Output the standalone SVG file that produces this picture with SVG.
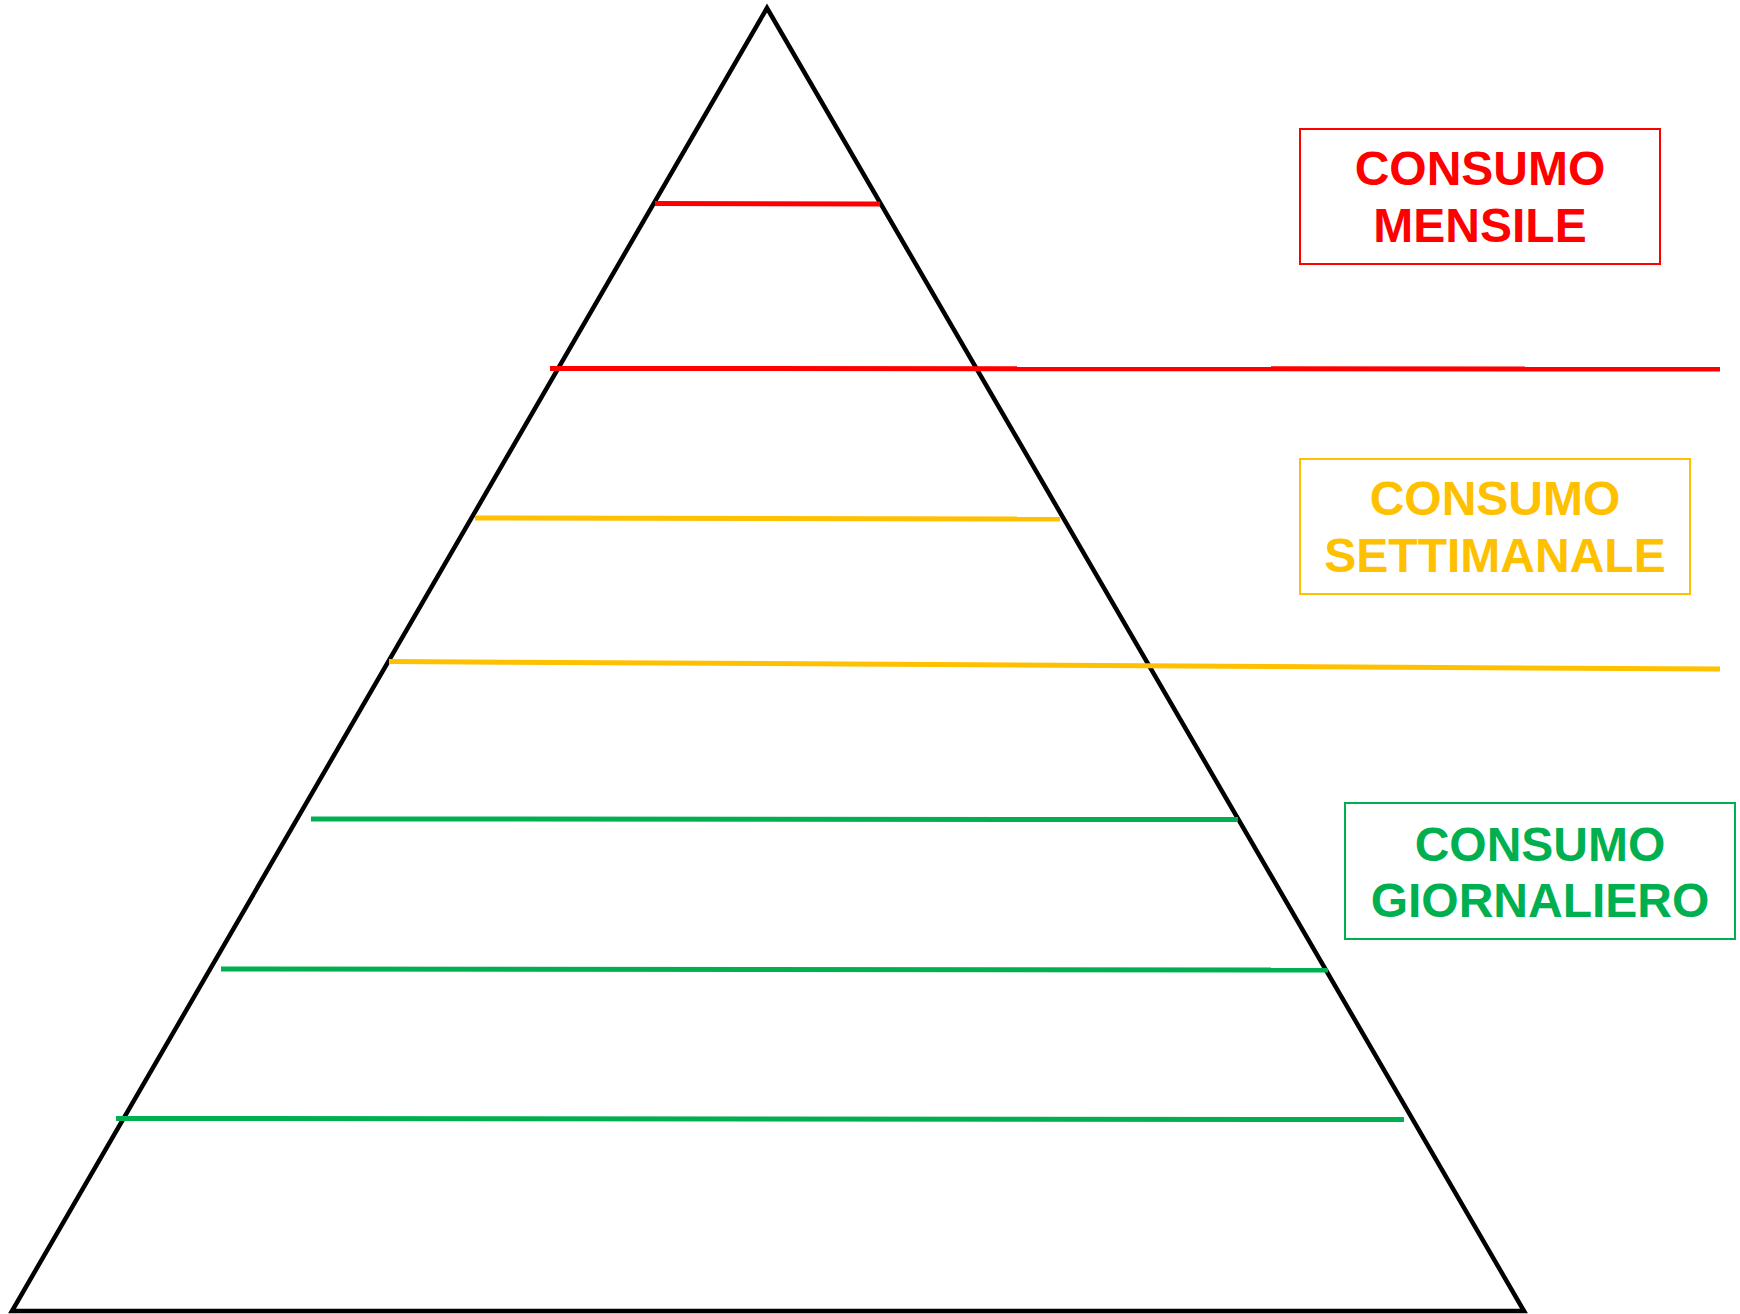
<svg xmlns="http://www.w3.org/2000/svg" width="1740" height="1314" viewBox="0 0 1740 1314">
  <style>
    .tri { fill: none; stroke: #000; stroke-width: 4.5; stroke-linejoin: miter; }
    .band { stroke-width: 5; fill: none; }
    .box { fill: #fff; stroke-width: 2; }
    .lbl { font-family: "Liberation Sans", Arial, sans-serif; font-weight: bold; font-size: 48px; text-anchor: middle; }
    .red { stroke: #FF0000; }
    .yel { stroke: #FFC000; }
    .grn { stroke: #00B050; }
  </style>

  <!-- pyramid outline -->
  <g id="pyramid">
    <polygon class="tri" points="767,8 12,1311 1524,1311"/>
  </g>

  <!-- dividing levels -->
  <g id="connectors">
    <line class="band red" x1="655" y1="203.5" x2="880" y2="204"/>
    <line class="band red" x1="550" y1="368.5" x2="1720" y2="369"/>
    <line class="band yel" x1="475" y1="518" x2="1060" y2="519"/>
    <line class="band yel" x1="389" y1="661.5" x2="1720" y2="669"/>
    <line class="band grn" x1="311" y1="819" x2="1238" y2="819.5"/>
    <line class="band grn" x1="221" y1="969" x2="1328" y2="970"/>
    <line class="band grn" x1="116" y1="1118.5" x2="1404" y2="1119.5"/>
  </g>

  <g id="monthly">
    <rect class="box red" x="1300" y="129" width="360" height="135"/>
    <text class="lbl" fill="#FF0000" x="1480" y="185">CONSUMO</text>
    <text class="lbl" fill="#FF0000" x="1480" y="242">MENSILE</text>
  </g>

  <g id="weekly">
    <rect class="box yel" x="1300" y="459" width="390" height="135"/>
    <text class="lbl" fill="#FFC000" x="1495" y="515">CONSUMO</text>
    <text class="lbl" fill="#FFC000" x="1495" y="572">SETTIMANALE</text>
  </g>

  <g id="daily">
    <rect class="box grn" x="1345" y="803" width="390" height="136"/>
    <text class="lbl" fill="#00B050" x="1540" y="861">CONSUMO</text>
    <text class="lbl" fill="#00B050" x="1540" y="917">GIORNALIERO</text>
  </g>
</svg>
